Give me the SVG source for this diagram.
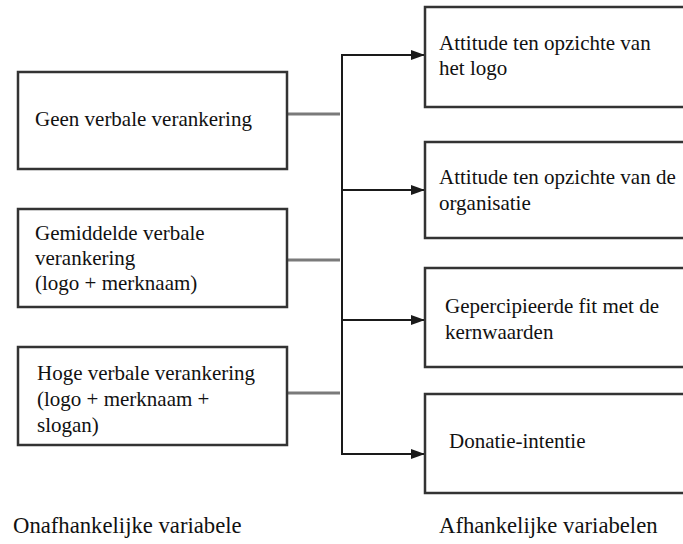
<svg xmlns="http://www.w3.org/2000/svg" width="683" height="544" viewBox="0 0 683 544">
  <style>
    .box { fill: #ffffff; stroke: #333333; stroke-width: 2.5; }
    .t { font-family: 'Liberation Serif', Tinos, 'Times New Roman', 'DejaVu Serif', serif; font-size: 21px; fill: #111111; }
    .lbl { font-family: 'Liberation Serif', Tinos, 'Times New Roman', 'DejaVu Serif', serif; font-size: 22.7px; fill: #111111; }
    .feed { stroke: #7a7a7a; stroke-width: 3; fill: none; }
    .bus { stroke: #1a1a1a; stroke-width: 2; fill: none; }
    .arr { stroke: #1a1a1a; stroke-width: 2; fill: none; marker-end: url(#ah); }
  </style>
  <defs>
    <marker id="ah" markerUnits="userSpaceOnUse" markerWidth="14" markerHeight="10" refX="14" refY="5" orient="auto">
      <path d="M0,0 L14,5 L0,10 Z" fill="#1a1a1a"/>
    </marker>
  </defs>
  <rect width="683" height="544" fill="#ffffff"/>

  <g id="connectors">
    <line class="feed" x1="288" y1="114" x2="340" y2="114"/>
    <line class="feed" x1="288" y1="260" x2="340" y2="260"/>
    <line class="feed" x1="288" y1="393" x2="340" y2="393"/>
    <line class="bus" x1="342" y1="54" x2="342" y2="455"/>
    <line class="arr" x1="341" y1="55" x2="425" y2="55"/>
    <line class="arr" x1="341" y1="190" x2="425" y2="190"/>
    <line class="arr" x1="341" y1="320" x2="425" y2="320"/>
    <line class="arr" x1="341" y1="454" x2="425" y2="454"/>
  </g>

  <g id="node-geen" font-family="Liberation Serif, serif">
    <rect class="box" x="18" y="72" width="269" height="97"/>
    <text class="t" x="35" y="126">Geen verbale verankering</text>
  </g>
  <g id="node-gemiddelde" font-family="Liberation Serif, serif">
    <rect class="box" x="18" y="209" width="269" height="98"/>
    <text class="t" x="35" y="240">Gemiddelde verbale</text>
    <text class="t" x="35" y="265">verankering</text>
    <text class="t" x="35" y="290">(logo + merknaam)</text>
  </g>
  <g id="node-hoge" font-family="Liberation Serif, serif">
    <rect class="box" x="18" y="347" width="269" height="98"/>
    <text class="t" x="37" y="380">Hoge verbale verankering</text>
    <text class="t" x="37" y="406">(logo + merknaam +</text>
    <text class="t" x="37" y="432">slogan)</text>
  </g>

  <g id="node-attitude-logo" font-family="Liberation Serif, serif">
    <rect class="box" x="425" y="7" width="270" height="100"/>
    <text class="t" x="439" y="50">Attitude ten opzichte van</text>
    <text class="t" x="439" y="75">het logo</text>
  </g>
  <g id="node-attitude-organisatie" font-family="Liberation Serif, serif">
    <rect class="box" x="425" y="142" width="270" height="96"/>
    <text class="t" x="439" y="184">Attitude ten opzichte van de</text>
    <text class="t" x="439" y="210">organisatie</text>
  </g>
  <g id="node-fit" font-family="Liberation Serif, serif">
    <rect class="box" x="425" y="268" width="270" height="99"/>
    <text class="t" x="445" y="313">Gepercipieerde fit met de</text>
    <text class="t" x="445" y="339">kernwaarden</text>
  </g>
  <g id="node-donatie" font-family="Liberation Serif, serif">
    <rect class="box" x="425" y="394" width="270" height="99"/>
    <text class="t" x="449" y="448">Donatie-intentie</text>
  </g>

  <g id="labels" font-family="Liberation Serif, serif">
    <text class="lbl" x="13" y="533">Onafhankelijke variabele</text>
    <text class="lbl" x="439" y="533">Afhankelijke variabelen</text>
  </g>
</svg>
